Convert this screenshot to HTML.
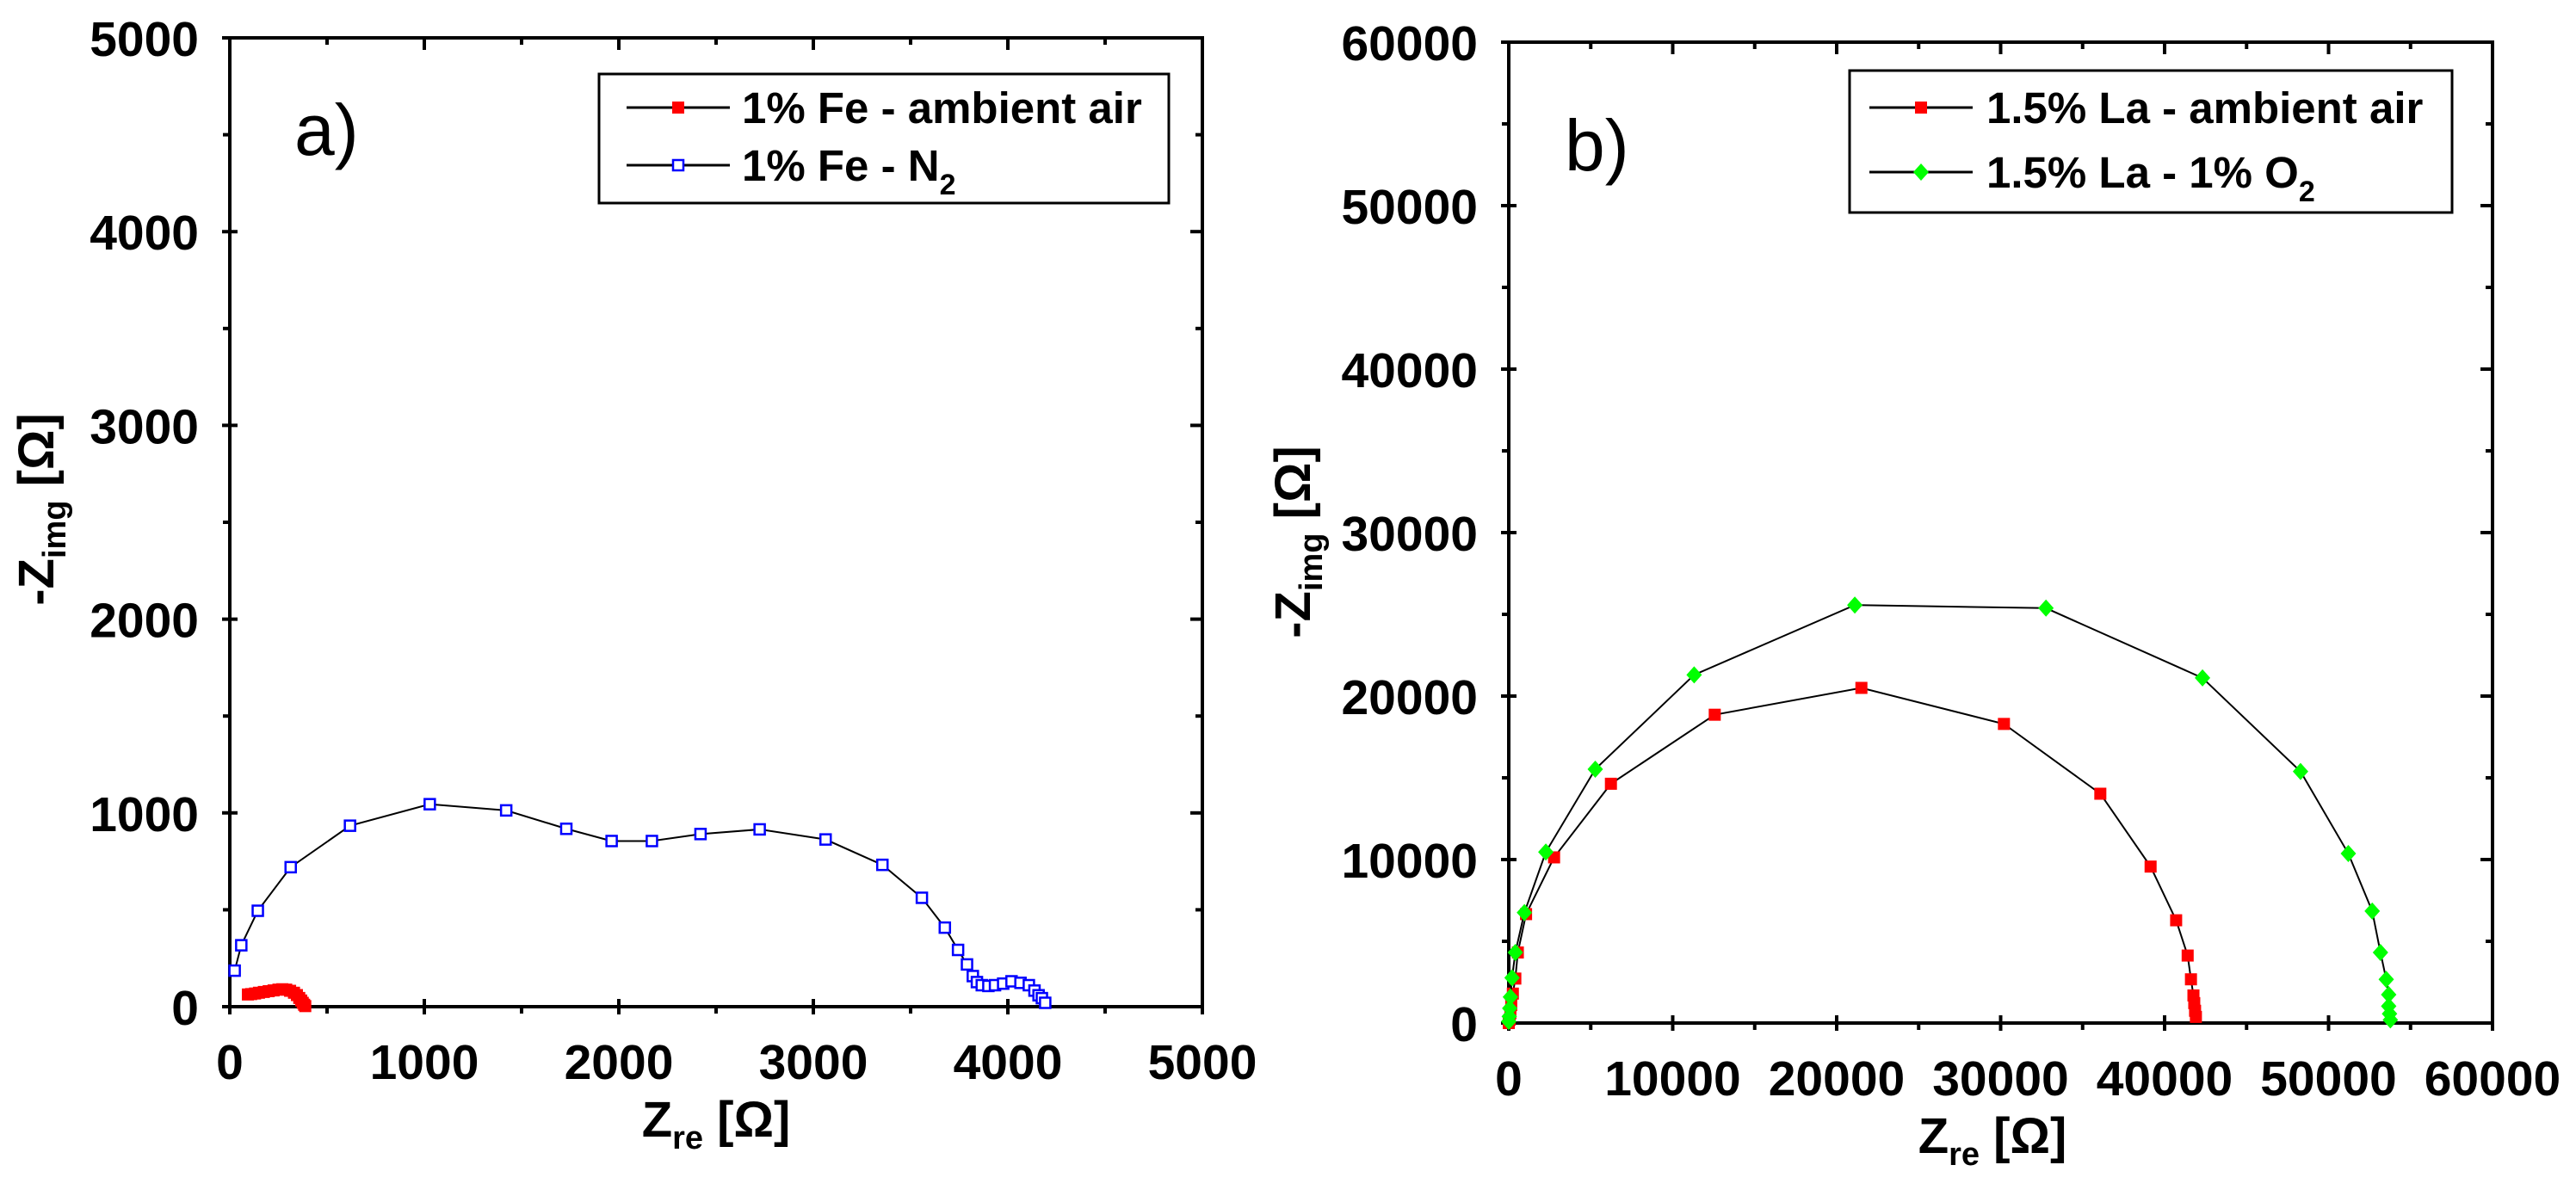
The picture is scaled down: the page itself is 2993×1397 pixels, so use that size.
<!DOCTYPE html>
<html><head><meta charset="utf-8"><style>
html,body{margin:0;padding:0;background:#fff;}
svg{display:block;font-family:"Liberation Sans",sans-serif;}
</style></head><body>
<svg id="chart" width="2993" height="1397" viewBox="0 0 2993 1397" xmlns="http://www.w3.org/2000/svg"></svg>
<script>
// Panel a data
const aAirX = [93,110,130,150,175,200,225,250,270,290,310,330,345,357,367,375,382,388];
const aAirY = [63,65,68,72,76,80,84,88,90,88,82,72,60,45,32,20,10,3];
const aN2X = [25,59,144,313,618,1028,1421,1730,1963,2170,2420,2724,3063,3355,3558,3676,3744,3790,3820,3841,3866,3900,3934,3976,4019,4065,4108,4137,4158,4175,4192];
const aN2Y = [186,317,495,720,934,1045,1013,918,855,855,891,915,863,732,562,408,293,218,158,127,111,107,111,119,131,123,111,83,59,44,20];
const aTicks = [0,1000,2000,3000,4000,5000];
// Panel b data
const bAirX = [0,50,100,150,250,400,553,1055,2764,6231,12563,21508,30201,36080,39146,40704,41407,41608,41759,41809,41859,41910];
const bAirY = [0,200,600,1100,1800,2720,4316,6662,10133,14637,18859,20501,18296,14027,9570,6286,4128,2674,1689,1220,750,375];
const bO2X = [0,30,60,100,201,402,955,2261,5276,11307,21106,32764,42312,48291,51206,52663,53166,53518,53668,53668,53719,53769];
const bO2Y = [100,400,900,1595,2768,4316,6755,10461,15528,21298,25567,25379,21110,15387,10367,6849,4316,2674,1736,1032,563,188];
const bTicks = [0,10000,20000,30000,40000,50000,60000];

const NS='http://www.w3.org/2000/svg';
const svg=document.getElementById('chart');
function mk(tag,attrs,parent,text){const e=document.createElementNS(NS,tag);for(const k in attrs)e.setAttribute(k,attrs[k]);if(text!==undefined)e.textContent=text;(parent||svg).appendChild(e);return e;}

function panel(cfg){
  const g=mk('g',{});
  
  
  const {L,R,T,B,max}=cfg;
  const sx=v=>L+(v/max)*(R-L), sy=v=>B-(v/max)*(B-T);
  const ticks=cfg.ticks, step=ticks[1]-ticks[0];
  for(let i=0;i<ticks.length;i++){
    const v=ticks[i];
    const x=sx(v), y=sy(v);
    mk('line',{x1:x,y1:B-9,x2:x,y2:B+9,stroke:'#000','stroke-width':4},g);
    mk('line',{x1:x,y1:T,x2:x,y2:T+14,stroke:'#000','stroke-width':4},g);
    mk('line',{x1:L-9,y1:y,x2:L+9,y2:y,stroke:'#000','stroke-width':4},g);
    mk('line',{x1:R-14,y1:y,x2:R,y2:y,stroke:'#000','stroke-width':4},g);
    if(i<ticks.length-1){
      const m=v+step/2, mx=sx(m), my=sy(m);
      mk('line',{x1:mx,y1:B,x2:mx,y2:B+8,stroke:'#000','stroke-width':4},g);
      mk('line',{x1:mx,y1:T,x2:mx,y2:T+8,stroke:'#000','stroke-width':4},g);
      mk('line',{x1:L-8,y1:my,x2:L,y2:my,stroke:'#000','stroke-width':4},g);
      mk('line',{x1:R-8,y1:my,x2:R,y2:my,stroke:'#000','stroke-width':4},g);
    }
    const xl=mk('text',{x:x,y:B+84,'font-size':57,'font-weight':'bold','text-anchor':'middle'},g,String(v));
    
    
    const yl=mk('text',{x:L-36,y:y+21,'font-size':57,'font-weight':'bold','text-anchor':'end'},g,String(v));
    
    
  }
  const frame=mk('rect',{x:L,y:T,width:R-L,height:B-T,fill:'none',stroke:'#000','stroke-width':4},g);
  
  
  cfg.series.forEach(s=>{
    const sg=mk('g',{},g);
    
    
    const pts=s.x.map((v,i)=>sx(v)+','+sy(s.y[i])).join(' ');
    mk('polyline',{points:pts,fill:'none',stroke:'#000','stroke-width':2},sg);
    s.x.forEach((v,i)=>{drawMarker(sg,s.marker,sx(v),sy(s.y[i]));});
  });
  const xt=mk('text',{x:cfg.xtx,y:B+151,'font-size':58,'font-weight':'bold','text-anchor':'middle'},g);
  
  
  mk('tspan',{},xt,'Z');
  mk('tspan',{'font-size':38,dy:14},xt,'re');
  mk('tspan',{dy:-14},xt,' [Ω]');
  const yt=mk('text',{transform:`translate(${cfg.ytx},${cfg.yty}) rotate(-90)`,'font-size':58,'font-weight':'bold','text-anchor':'middle'},g);
  
  
  mk('tspan',{},yt,'-Z');
  mk('tspan',{'font-size':38,dy:14},yt,'img');
  mk('tspan',{dy:-14},yt,' [Ω]');
  const pl=mk('text',{x:cfg.plx,y:cfg.ply,'font-size':84},g,cfg.label);
  
  
  const lg=mk('g',{},g);
  
  
  const Lg=cfg.legend;
  mk('rect',{x:Lg.x,y:Lg.y,width:Lg.w,height:Lg.h,fill:'#fff',stroke:'#000','stroke-width':3},lg);
  Lg.rows.forEach((r,i)=>{
    const e=mk('g',{},lg);
    
    
    mk('line',{x1:Lg.lx1,y1:r.y,x2:Lg.lx2,y2:r.y,stroke:'#000','stroke-width':3},e);
    drawMarker(e,cfg.series[i].marker,(Lg.lx1+Lg.lx2)/2,r.y);
    const t=mk('text',{x:Lg.tx,y:r.y+18,'font-size':51,'font-weight':'bold'},e);
    mk('tspan',{},t,r.text);
    if(r.sub){mk('tspan',{'font-size':34,dy:16},t,r.sub);}
  });
}
function drawMarker(g,m,x,y){
  if(m==='fsq') mk('rect',{x:x-7,y:y-7,width:14,height:14,fill:'#ff0000'},g);
  else if(m==='osq') mk('rect',{x:x-6,y:y-6,width:12,height:12,fill:'#fff',stroke:'#0000ff','stroke-width':2.5},g);
  else if(m==='dia') mk('polygon',{points:`${x},${y-10} ${x+9},${y} ${x},${y+10} ${x-9},${y}`,fill:'#00ff00'},g);
}
panel({name:'panel-a',L:267,R:1397,T:44,B:1170,max:5000,ticks:aTicks,xtx:832,ytx:62,yty:592,plx:342,ply:180,label:'a)',
  series:[{name:'series-fe-ambient-air',x:aAirX,y:aAirY,marker:'fsq'},{name:'series-fe-n2',x:aN2X,y:aN2Y,marker:'osq'}],
  legend:{x:696,y:86,w:662,h:150,lx1:728,lx2:848,tx:862,rows:[{y:125,text:'1% Fe - ambient air'},{y:192,text:'1% Fe - N',sub:'2'}]}});
panel({name:'panel-b',L:1753,R:2896,T:49,B:1189,max:60000,ticks:bTicks,xtx:2315,ytx:1522,yty:630,plx:1818,ply:198,label:'b)',
  series:[{name:'series-la-ambient-air',x:bAirX,y:bAirY,marker:'fsq'},{name:'series-la-o2',x:bO2X,y:bO2Y,marker:'dia'}],
  legend:{x:2149,y:82,w:700,h:165,lx1:2172,lx2:2292,tx:2308,rows:[{y:125,text:'1.5% La - ambient air'},{y:200,text:'1.5% La - 1% O',sub:'2'}]}});
</script>
</body></html>
